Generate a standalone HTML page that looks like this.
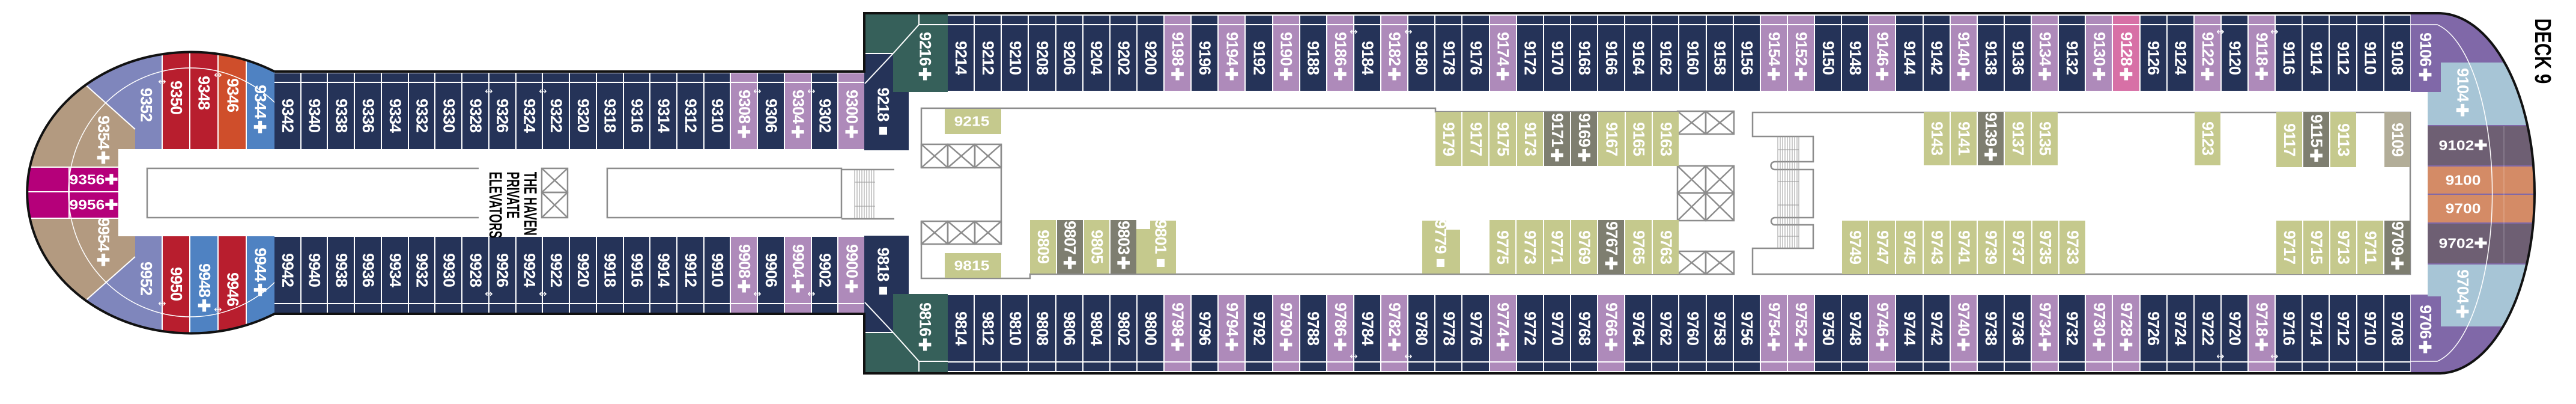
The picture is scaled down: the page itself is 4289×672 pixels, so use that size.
<!DOCTYPE html>
<html><head><meta charset="utf-8">
<style>
html,body{margin:0;padding:0;background:#fff;}
#w{position:relative;width:4289px;height:672px;overflow:hidden;background:#fff;font-family:"Liberation Sans",sans-serif;}
svg{position:absolute;left:0;top:0;}
.row{position:absolute;display:flex;}
.row>div{flex:1;position:relative;box-sizing:border-box;border-right:2px solid #fff;background:#253358;color:#fff;display:flex;align-items:center;justify-content:center;}
.row>div:last-child{border-right:none;}
.row span,.v{writing-mode:vertical-rl;font-weight:bold;font-size:27px;line-height:1;letter-spacing:-1px;white-space:nowrap;color:#fff;}
.t>div{padding-top:15px;}
.t>div::after{content:"";position:absolute;left:0;right:0;top:14px;height:2px;background:#fff;}
.b>div{padding-bottom:15px;}
.b>div::after{content:"";position:absolute;left:0;right:0;bottom:14px;height:2px;background:#fff;}
.row>div.l{background:#ae8aba;}
.row>div.p{background:#d770a6;}
.o>div{background:#c5c98d;}
.o>div.g{background:#7e7e70;}
.o>div.tp{background:#b2ad98;}
.v{position:absolute;transform:translate(-50%,-50%);}
.h{position:absolute;transform:translate(-50%,-50%) scaleX(1.15);font-weight:bold;font-size:23px;line-height:1;color:#fff;white-space:nowrap;}
.ar{position:absolute;transform:translate(-50%,-50%);color:#fff;font-size:16px;font-family:"DejaVu Sans",sans-serif;line-height:1;}
</style></head><body><div id="w">
<svg width="4289" height="672" viewBox="0 0 4289 672">
<defs>
<clipPath id="bow"><ellipse cx="319" cy="320" rx="273" ry="234"/></clipPath>
<clipPath id="stern"><path d="M4013,22 L4060,22 A160 299.5 0 0 1 4060 621 L4013 621 Z"/></clipPath>
</defs>
<!-- bow -->
<g clip-path="url(#bow)">
<rect x="0" y="0" width="457" height="672" fill="#7f86bc"/>
<polygon points="145,143 225,215 225,248 197,248 197,278 0,278 0,100" fill="#b39a80"/>
<polygon points="0,363 197,363 197,393 225,393 225,427 145,498 0,540" fill="#b39a80"/>
<rect x="0" y="278" width="197" height="85" fill="#b5007a"/>
<rect x="270" y="0" width="46" height="248" fill="#b81e2e"/>
<rect x="316" y="0" width="47" height="248" fill="#b81e2e"/>
<rect x="363" y="0" width="47" height="248" fill="#cf4e2b"/>
<rect x="410" y="0" width="47" height="248" fill="#4f82c2"/>
<rect x="270" y="393" width="46" height="300" fill="#b81e2e"/>
<rect x="316" y="393" width="47" height="300" fill="#4f82c2"/>
<rect x="363" y="393" width="47" height="300" fill="#b81e2e"/>
<rect x="410" y="393" width="47" height="300" fill="#4f82c2"/>
<g stroke="#fff" stroke-width="2" fill="none">
<line x1="270" y1="0" x2="270" y2="248"/><line x1="316" y1="0" x2="316" y2="248"/><line x1="363" y1="0" x2="363" y2="248"/><line x1="410" y1="0" x2="410" y2="248"/>
<line x1="270" y1="393" x2="270" y2="672"/><line x1="316" y1="393" x2="316" y2="672"/><line x1="363" y1="393" x2="363" y2="672"/><line x1="410" y1="393" x2="410" y2="672"/>
<line x1="130" y1="130" x2="225" y2="215"/><line x1="130" y1="511" x2="225" y2="427"/>
<line x1="0" y1="319" x2="197" y2="319"/><line x1="115" y1="278" x2="115" y2="363"/>
<line x1="0" y1="278" x2="197" y2="278"/><line x1="0" y1="363" x2="197" y2="363"/>
<ellipse cx="317" cy="320" rx="203" ry="207" stroke-width="1.5"/>
</g>
<rect x="197" y="248" width="270" height="145" fill="#fff"/>
</g>
<!-- wide left corner -->
<polygon points="1439,22 1578,22 1578,153 1487,153 1487,89 1439,89" fill="#36605a"/>
<polygon points="1439,89 1487,89 1487,153 1513,153 1513,250 1439,250" fill="#253358"/>
<polygon points="1439,620 1578,620 1578,489 1487,489 1487,553 1439,553" fill="#36605a"/>
<polygon points="1439,553 1487,553 1487,489 1513,489 1513,392 1439,392" fill="#253358"/>
<g stroke="#fff" stroke-width="2">
<line x1="1530" y1="24" x2="1530" y2="41"/><line x1="1530" y1="41" x2="1578" y2="41"/><line x1="1530" y1="41" x2="1487" y2="89"/><line x1="1487" y1="89" x2="1440" y2="139"/><line x1="1440" y1="89" x2="1487" y2="89"/>
<line x1="1530" y1="618" x2="1530" y2="601"/><line x1="1530" y1="601" x2="1578" y2="601"/><line x1="1530" y1="601" x2="1487" y2="553"/><line x1="1487" y1="553" x2="1440" y2="503"/><line x1="1440" y1="553" x2="1487" y2="553"/>
</g>
<!-- stern -->
<g clip-path="url(#stern)">
<rect x="4013" y="0" width="276" height="672" fill="#8068a8"/>
<rect x="4013" y="153" width="29" height="337" fill="#fff"/>
<polygon points="4042,153 4064,153 4064,104 4289,104 4289,208 4042,208" fill="#a7c5d6"/>
<rect x="4042" y="210" width="247" height="65" fill="#6e5f73"/>
<rect x="4042" y="277" width="247" height="45" fill="#d48b66"/>
<rect x="4042" y="324" width="247" height="46" fill="#d48b66"/>
<rect x="4042" y="372" width="247" height="66" fill="#6e5f73"/>
<polygon points="4042,440 4289,440 4289,543 4064,543 4064,493 4042,493" fill="#a7c5d6"/>
<g stroke="#fff" stroke-width="1.5" fill="none">
<path d="M4013,41 L4058,41 A110 284 0 0 1 4058 601 L4013 601"/>
<line x1="4013" y1="24" x2="4013" y2="153"/><line x1="4013" y1="490" x2="4013" y2="620"/>
</g>
<line x1="4169" y1="210" x2="4169" y2="438" stroke="#fff" stroke-width="0.8" opacity="0.4"/>
</g>
<!-- outline -->
<path d="M457,119 L1439,119 L1439,22 L4060,22 A160 299.5 0 0 1 4060 621 L1439,621 L1439,522 L457,522 A273 234 0 1 1 457 119" fill="none" stroke="#111" stroke-width="4"/>
<!-- interior lines -->
<g stroke="#8c8c8c" stroke-width="2.5" fill="none">
<path d="M797,280 L245,280 L245,362 L797,362"/>
<rect x="1011" y="280" width="390" height="82"/>
<path d="M1401,282 L1489,282 M1401,364 L1489,364"/>
<rect x="902" y="280" width="43" height="40"/><rect x="902" y="320" width="43" height="42"/>
<path d="M902,280 L945,320 M945,280 L902,320 M902,320 L945,362 M945,320 L902,362"/>
<path d="M1534,279 L1534,180 L2390,180 L2390,186 L2795,186"/>
<path d="M1534,368 L1534,463 L1715,463 L1715,456 L2795,456"/>
<path d="M1667,240 L1667,406"/>
<rect x="1534" y="240" width="44" height="39"/><rect x="1578" y="240" width="45" height="39"/><rect x="1623" y="240" width="44" height="39"/>
<path d="M1534,240 L1578,279 M1578,240 L1534,279 M1578,240 L1623,279 M1623,240 L1578,279 M1623,240 L1667,279 M1667,240 L1623,279"/>
<rect x="1534" y="368" width="44" height="38"/><rect x="1578" y="368" width="45" height="38"/><rect x="1623" y="368" width="44" height="38"/>
<path d="M1534,368 L1578,406 M1578,368 L1534,406 M1578,368 L1623,406 M1623,368 L1578,406 M1623,368 L1667,406 M1667,368 L1623,406"/>
<rect x="2793" y="185" width="47" height="38"/><rect x="2840" y="185" width="47" height="38"/>
<path d="M2793,185 L2840,223 M2840,185 L2793,223 M2840,185 L2887,223 M2887,185 L2840,223"/>
<rect x="2793" y="276" width="47" height="45"/><rect x="2840" y="276" width="47" height="45"/><rect x="2793" y="321" width="47" height="46"/><rect x="2840" y="321" width="47" height="46"/>
<path d="M2793,276 L2840,321 M2840,276 L2793,321 M2840,276 L2887,321 M2887,276 L2840,321 M2793,321 L2840,367 M2840,321 L2793,367 M2840,321 L2887,367 M2887,321 L2840,367"/>
<rect x="2793" y="418" width="47" height="38"/><rect x="2840" y="418" width="47" height="38"/>
<path d="M2793,418 L2840,456 M2840,418 L2793,456 M2840,418 L2887,456 M2887,418 L2840,456"/>
<path d="M2918,227 L2918,187 L4013,187 L4013,456 L2918,456 L2918,413 L3019,413 L3019,374 L2955,374 A6 6 0 0 1 2955,362 L3019,362 L3019,282 L2955,282 A6 6 0 0 1 2955,269 L3019,269 L3019,227 Z"/>
</g>
<g stroke="#999" stroke-width="1">
<path d="M1423,283 V363 M1427,283 V363 M1431,283 V363 M1435,283 V363 M1439,283 V363 M1443,283 V363 M1447,283 V363 M1451,283 V363 M1455,283 V363 M1423,303 H1457 M1423,343 H1457"/>
<path d="M2960,227 V413 M2964,227 V413 M2968,227 V413 M2972,227 V413 M2976,227 V413 M2980,227 V413 M2984,227 V413 M2988,227 V413 M2992,227 V413 M2995,227 V413 M2960,249 H2995 M2960,302 H2995 M2960,341 H2995 M2960,393 H2995"/>
</g>
<!-- interior olive notch cells -->
<polygon points="1892,381 1915,381 1915,367 1958,367 1958,455 1892,455" fill="#c5c98d"/>
<polygon points="2368,367 2408,367 2408,382 2431,382 2431,455 2368,455" fill="#c5c98d"/>
<rect x="1573" y="181" width="94" height="42" fill="#c5c98d"/>
<rect x="1573" y="421" width="94" height="41" fill="#c5c98d"/>
</svg>

<!-- narrow rows -->
<div class="row t" style="left:457px;top:122px;width:982px;height:126px;">
<div><span>9342</span></div><div><span>9340</span></div><div><span>9338</span></div><div><span>9336</span></div><div><span>9334</span></div><div><span>9332</span></div><div><span>9330</span></div><div><span>9328</span></div><div><span>9326</span></div><div><span>9324</span></div><div><span>9322</span></div><div><span>9320</span></div><div><span>9318</span></div><div><span>9316</span></div><div><span>9314</span></div><div><span>9312</span></div><div><span>9310</span></div><div class="l"><span>9308✚</span></div><div><span>9306</span></div><div class="l"><span>9304✚</span></div><div><span>9302</span></div><div class="l"><span>9300✚</span></div>
</div>
<div class="row b" style="left:457px;top:394px;width:982px;height:126px;">
<div><span>9942</span></div><div><span>9940</span></div><div><span>9938</span></div><div><span>9936</span></div><div><span>9934</span></div><div><span>9932</span></div><div><span>9930</span></div><div><span>9928</span></div><div><span>9926</span></div><div><span>9924</span></div><div><span>9922</span></div><div><span>9920</span></div><div><span>9918</span></div><div><span>9916</span></div><div><span>9914</span></div><div><span>9912</span></div><div><span>9910</span></div><div class="l"><span>9908✚</span></div><div><span>9906</span></div><div class="l"><span>9904✚</span></div><div><span>9902</span></div><div class="l"><span>9900✚</span></div>
</div>
<!-- wide rows -->
<div class="row t" style="left:1578px;top:26px;width:2435px;height:125px;">
<div><span>9214</span></div><div><span>9212</span></div><div><span>9210</span></div><div><span>9208</span></div><div><span>9206</span></div><div><span>9204</span></div><div><span>9202</span></div><div><span>9200</span></div><div class="l"><span>9198✚</span></div><div><span>9196</span></div><div class="l"><span>9194✚</span></div><div><span>9192</span></div><div class="l"><span>9190✚</span></div><div><span>9188</span></div><div class="l"><span>9186✚</span></div><div><span>9184</span></div><div class="l"><span>9182✚</span></div><div><span>9180</span></div><div><span>9178</span></div><div><span>9176</span></div><div class="l"><span>9174✚</span></div><div><span>9172</span></div><div><span>9170</span></div><div><span>9168</span></div><div><span>9166</span></div><div><span>9164</span></div><div><span>9162</span></div><div><span>9160</span></div><div><span>9158</span></div><div><span>9156</span></div><div class="l"><span>9154✚</span></div><div class="l"><span>9152✚</span></div><div><span>9150</span></div><div><span>9148</span></div><div class="l"><span>9146✚</span></div><div><span>9144</span></div><div><span>9142</span></div><div class="l"><span>9140✚</span></div><div><span>9138</span></div><div><span>9136</span></div><div class="l"><span>9134✚</span></div><div><span>9132</span></div><div class="l"><span>9130✚</span></div><div class="p"><span>9128✚</span></div><div><span>9126</span></div><div><span>9124</span></div><div class="l"><span>9122✚</span></div><div><span>9120</span></div><div class="l"><span>9118✚</span></div><div><span>9116</span></div><div><span>9114</span></div><div><span>9112</span></div><div><span>9110</span></div><div><span>9108</span></div>
</div>
<div class="row b" style="left:1578px;top:491px;width:2435px;height:126px;">
<div><span>9814</span></div><div><span>9812</span></div><div><span>9810</span></div><div><span>9808</span></div><div><span>9806</span></div><div><span>9804</span></div><div><span>9802</span></div><div><span>9800</span></div><div class="l"><span>9798✚</span></div><div><span>9796</span></div><div class="l"><span>9794✚</span></div><div><span>9792</span></div><div class="l"><span>9790✚</span></div><div><span>9788</span></div><div class="l"><span>9786✚</span></div><div><span>9784</span></div><div class="l"><span>9782✚</span></div><div><span>9780</span></div><div><span>9778</span></div><div><span>9776</span></div><div class="l"><span>9774✚</span></div><div><span>9772</span></div><div><span>9770</span></div><div><span>9768</span></div><div class="l"><span>9766✚</span></div><div><span>9764</span></div><div><span>9762</span></div><div><span>9760</span></div><div><span>9758</span></div><div><span>9756</span></div><div class="l"><span>9754✚</span></div><div class="l"><span>9752✚</span></div><div><span>9750</span></div><div><span>9748</span></div><div class="l"><span>9746✚</span></div><div><span>9744</span></div><div><span>9742</span></div><div class="l"><span>9740✚</span></div><div><span>9738</span></div><div><span>9736</span></div><div class="l"><span>9734✚</span></div><div><span>9732</span></div><div class="l"><span>9730✚</span></div><div class="l"><span>9728✚</span></div><div><span>9726</span></div><div><span>9724</span></div><div><span>9722</span></div><div><span>9720</span></div><div class="l"><span>9718✚</span></div><div><span>9716</span></div><div><span>9714</span></div><div><span>9712</span></div><div><span>9710</span></div><div><span>9708</span></div>
</div>
<!-- interior olive rows -->
<div class="row o" style="left:2390px;top:186px;width:405px;height:90px;">
<div><span>9179</span></div><div><span>9177</span></div><div><span>9175</span></div><div><span>9173</span></div><div class="g"><span>9171✚</span></div><div class="g"><span>9169✚</span></div><div><span>9167</span></div><div><span>9165</span></div><div><span>9163</span></div>
</div>
<div class="row o" style="left:3203px;top:186px;width:223px;height:89px;">
<div><span>9143</span></div><div><span>9141</span></div><div class="g"><span>9139✚</span></div><div><span>9137</span></div><div><span>9135</span></div>
</div>
<div class="row o" style="left:3654px;top:186px;width:43px;height:89px;"><div><span>9123</span></div></div>
<div class="row o" style="left:3790px;top:186px;width:133px;height:92px;">
<div><span>9117</span></div><div class="g"><span>9115✚</span></div><div><span>9113</span></div>
</div>
<div class="row o" style="left:3970px;top:186px;width:43px;height:92px;"><div class="tp"><span>9109</span></div></div>
<div class="row o" style="left:1715px;top:366px;width:177px;height:89px;">
<div><span>9809</span></div><div class="g"><span>9807✚</span></div><div><span>9805</span></div><div class="g"><span>9803✚</span></div>
</div>
<div class="row o" style="left:2480px;top:366px;width:315px;height:90px;">
<div><span>9775</span></div><div><span>9773</span></div><div><span>9771</span></div><div><span>9769</span></div><div class="g"><span>9767✚</span></div><div><span>9765</span></div><div><span>9763</span></div>
</div>
<div class="row o" style="left:3067px;top:367px;width:405px;height:89px;">
<div><span>9749</span></div><div><span>9747</span></div><div><span>9745</span></div><div><span>9743</span></div><div><span>9741</span></div><div><span>9739</span></div><div><span>9737</span></div><div><span>9735</span></div><div><span>9733</span></div>
</div>
<div class="row o" style="left:3790px;top:367px;width:223px;height:89px;">
<div><span>9717</span></div><div><span>9715</span></div><div><span>9713</span></div><div><span>9711</span></div><div class="g"><span>9709✚</span></div>
</div>
<span class="v" style="left:1932px;top:408px;">9801■</span>
<span class="v" style="left:2398px;top:408px;">9779■</span>
<span class="h" style="left:1618px;top:202px;">9215</span>
<span class="h" style="left:1618px;top:442px;">9815</span>
<span class="v" style="left:1470px;top:188px;">9218■</span>
<span class="v" style="left:1470px;top:454px;">9818■</span>
<span class="v" style="left:1540px;top:96px;">9216✚</span>
<span class="v" style="left:1540px;top:546px;">9816✚</span>
<!-- bow labels -->
<span class="v" style="left:243px;top:174px;">9352</span>
<span class="v" style="left:293px;top:162px;">9350</span>
<span class="v" style="left:339px;top:154px;">9348</span>
<span class="v" style="left:387px;top:158px;">9346</span>
<span class="v" style="left:433px;top:184px;">9344✚</span>
<span class="v" style="left:172px;top:235px;">9354✚</span>
<span class="h" style="left:156px;top:299px;">9356✚</span>
<span class="h" style="left:156px;top:341px;">9956✚</span>
<span class="v" style="left:172px;top:405px;">9954✚</span>
<span class="v" style="left:243px;top:463px;">9952</span>
<span class="v" style="left:293px;top:472px;">9950</span>
<span class="v" style="left:340px;top:481px;">9948✚</span>
<span class="v" style="left:387px;top:481px;">9946</span>
<span class="v" style="left:433px;top:455px;">9944✚</span>
<!-- stern labels -->
<span class="v" style="left:4038px;top:97px;">9106✚</span>
<span class="v" style="left:4100px;top:156px;">9104✚</span>
<span class="h" style="left:4101px;top:242px;">9102✚</span>
<span class="h" style="left:4101px;top:300px;">9100</span>
<span class="h" style="left:4101px;top:347px;">9700</span>
<span class="h" style="left:4101px;top:405px;">9702✚</span>
<span class="v" style="left:4100px;top:491px;">9704✚</span>
<span class="v" style="left:4038px;top:550px;">9706✚</span>
<span class="v" style="left:4233px;top:85px;color:#000;font-size:38px;letter-spacing:0;transform:translate(-50%,-50%) scaleY(0.78);">DECK 9</span>
<div style="position:absolute;left:805px;top:266px;width:92px;height:104px;writing-mode:vertical-rl;text-align:center;font-weight:bold;font-size:30px;line-height:29px;color:#000;white-space:nowrap;transform:scaleY(0.62);transform-origin:center;">THE HAVEN<br>PRIVATE<br>ELEVATORS</div>
<!-- connecting arrows -->
<span class="ar" style="left:270px;top:136px;">↔</span><span class="ar" style="left:363px;top:125px;">↔</span>
<span class="ar" style="left:270px;top:505px;">↔</span><span class="ar" style="left:363px;top:515px;">↔</span>
<span class="ar" style="left:814px;top:152px;">↔</span><span class="ar" style="left:904px;top:152px;">↔</span><span class="ar" style="left:1261px;top:152px;">↔</span><span class="ar" style="left:1351px;top:152px;">↔</span>
<span class="ar" style="left:814px;top:489px;">↔</span><span class="ar" style="left:904px;top:489px;">↔</span><span class="ar" style="left:1261px;top:489px;">↔</span><span class="ar" style="left:1351px;top:489px;">↔</span>
<span class="ar" style="left:2254px;top:53px;">↔</span><span class="ar" style="left:2345px;top:53px;">↔</span><span class="ar" style="left:3697px;top:53px;">↔</span><span class="ar" style="left:3787px;top:53px;">↔</span>
<span class="ar" style="left:2254px;top:593px;">↔</span><span class="ar" style="left:2345px;top:593px;">↔</span><span class="ar" style="left:3697px;top:593px;">↔</span><span class="ar" style="left:3787px;top:593px;">↔</span>
</div></body></html>
